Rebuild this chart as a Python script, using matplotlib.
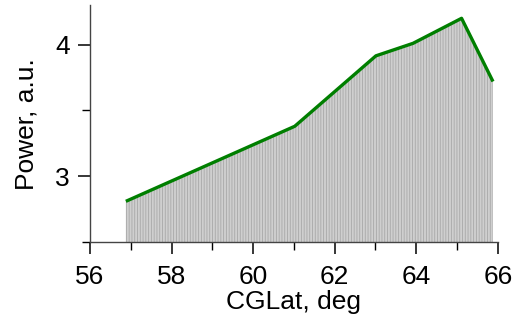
import matplotlib
matplotlib.use("Agg")
import matplotlib.pyplot as plt
from matplotlib.ticker import MultipleLocator

# CGLat (deg) vs power (a.u.)
cglat = [56.88, 61.02, 63.01, 63.92, 65.11, 65.88]
power = [2.81, 3.38, 3.915, 4.01, 4.20, 3.72]

plt.rcParams['font.family'] = ['Liberation Sans', 'DejaVu Sans']
plt.rcParams['hatch.linewidth'] = 0.6

fig = plt.figure(figsize=(5.17, 3.22), dpi=100)
ax = fig.add_axes([0.174, 0.248, 0.789, 0.736])

ax.fill_between(cglat, power, 2.5, facecolor='#cfcfcf', edgecolor='#a8a8a8',
                hatch='||||||', linewidth=0)
ax.plot(cglat, power, color='#007f00', linewidth=2.4, solid_capstyle='butt')

ax.set_xlim(56, 66)
ax.set_ylim(2.5, 4.3)
ax.xaxis.set_major_locator(MultipleLocator(2))
ax.xaxis.set_minor_locator(MultipleLocator(1))
ax.yaxis.set_major_locator(MultipleLocator(1))
ax.yaxis.set_minor_locator(MultipleLocator(0.5))

for s in ['top', 'right']:
    ax.spines[s].set_visible(False)
for s in ['left', 'bottom']:
    ax.spines[s].set_linewidth(1.0)
    ax.spines[s].set_color('#444444')

ax.tick_params(which='major', length=8.5, width=1.1, labelsize=19,
               direction='out')
ax.tick_params(which='minor', length=5.5, width=1.0, direction='out')
ax.tick_params(axis='x', which='major', pad=8)
ax.tick_params(axis='y', which='major', pad=6)

ax.set_xlabel('CGLat, deg', fontsize=19, labelpad=0.5)
ax.set_ylabel('Power, a.u.', fontsize=19, labelpad=12)

fig.savefig('out.png', dpi=100)
